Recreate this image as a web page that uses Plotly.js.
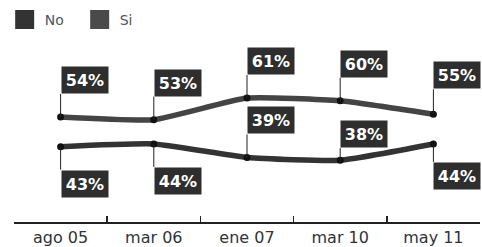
<!DOCTYPE html>
<html>
<head>
<meta charset="utf-8">
<script src="https://cdn.plot.ly/plotly-3.0.1.min.js"></script>
<style>html,body{margin:0;padding:0;background:#fff;}#chart{width:482px;height:247px;}</style>
</head>
<body>
<div id="chart"></div>
<script>
const categories = ["ago 05", "mar 06", "ene 07", "mar 10", "may 11"];
const siValues = [54, 53, 61, 60, 55];
const noValues = [43, 44, 39, 38, 44];
const noLabelOffsets = [23, 23, -23, -12, 18];
const siLabelOffsets = [-23, -23, -23, -23, -25];

const noColor = "#333333";
const siColor = "#444444";
const boxColor = "#2e2e2e";

const traces = [
  { x: categories, y: siValues, mode: "lines+markers", type: "scatter", showlegend: false,
    line: { color: siColor, width: 5.5, shape: "spline", smoothing: 0.45 },
    marker: { color: "#111", size: 7 }, hoverinfo: "skip" },
  { x: categories, y: noValues, mode: "lines+markers", type: "scatter", showlegend: false,
    line: { color: noColor, width: 5.5, shape: "spline", smoothing: 0.45 },
    marker: { color: "#111", size: 7 }, hoverinfo: "skip" },
  { x: [null], y: [null], mode: "markers", type: "scatter", name: "No",
    marker: { symbol: "square", size: 16, color: noColor, line: { width: 3, color: noColor } } },
  { x: [null], y: [null], mode: "markers", type: "scatter", name: "Si",
    marker: { symbol: "square", size: 16, color: "#4a4a4a", line: { width: 3, color: "#4a4a4a" } } }
];

function label(cat, v, off) {
  return {
    x: cat, y: v, xref: "x", yref: "y",
    text: v + "%", showarrow: true, arrowhead: 0, arrowwidth: 1, arrowcolor: "#222",
    ax: 0, ay: off, xanchor: "left", yanchor: off < 0 ? "bottom" : "top",
    bgcolor: boxColor, width: 42, height: 22, borderpad: 2, align: "center",
    font: { family: "DejaVu Sans", size: 16, color: "#fff", weight: "bold" }
  };
}

const annotations = [];
categories.forEach((c, i) => {
  annotations.push(label(c, siValues[i], siLabelOffsets[i]));
  annotations.push(label(c, noValues[i], noLabelOffsets[i]));
});

const layout = {
  width: 482, height: 247,
  margin: { l: 14, r: 2, t: 0, b: 25 },
  paper_bgcolor: "#fff", plot_bgcolor: "#fff",
  font: { family: "DejaVu Sans", size: 14, color: "#333" },
  showlegend: true,
  legend: { orientation: "h", x: -0.02, y: 0.91, xanchor: "left", yanchor: "middle",
    bgcolor: "rgba(0,0,0,0)",
    font: { size: 14, color: "#555" }, entrywidth: 30, entrywidthmode: "pixels", itemclick: false },
  xaxis: { type: "category", range: [-0.5, 4.5], showline: true, linecolor: "#222", linewidth: 1.5,
    ticks: "inside", ticklen: 6, tickcolor: "#222", tickwidth: 1.5, tickson: "boundaries",
    showgrid: false, zeroline: false, fixedrange: true,
    tickfont: { size: 16, color: "#333" } },
  yaxis: { range: [15.1, 97.3], visible: false, fixedrange: true },
  annotations: annotations
};

Plotly.newPlot("chart", traces, layout, { displayModeBar: false, staticPlot: true });
</script>
</body>
</html>
